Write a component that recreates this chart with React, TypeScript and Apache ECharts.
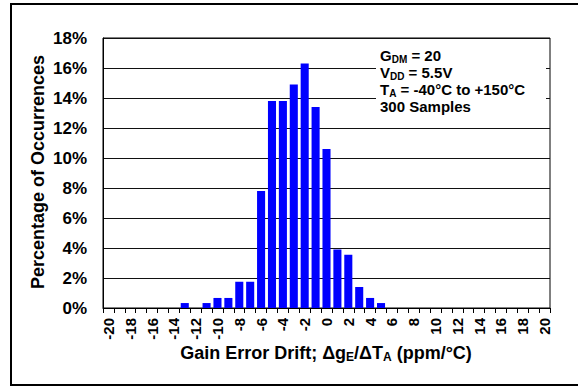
import React, { useEffect, useRef } from "react";
import * as echarts from "echarts";

const categories: string[] = [
  "-20", "-19", "-18", "-17", "-16", "-15", "-14", "-13", "-12", "-11",
  "-10", "-9", "-8", "-7", "-6", "-5", "-4", "-3", "-2", "-1",
  "0", "1", "2", "3", "4", "5", "6", "7", "8", "9",
  "10", "11", "12", "13", "14", "15", "16", "17", "18", "19", "20",
];

const percentages: number[] = [
  0, 0, 0, 0, 0, 0, 0, 0.33, 0, 0.33,
  0.67, 0.67, 1.75, 1.75, 7.8, 13.8, 13.8, 14.9, 16.3, 13.4,
  10.6, 3.9, 3.55, 1.4, 0.67, 0.33, 0, 0, 0, 0,
  0, 0, 0, 0, 0, 0, 0, 0, 0, 0, 0,
];

const yTicks = { min: 0, max: 18, interval: 2 };

const FONT = "'Liberation Sans', Arial, Helvetica, sans-serif";

export default function App() {
  const ref = useRef<HTMLDivElement>(null);
  useEffect(() => {
    if (!ref.current) return;
    const chart = echarts.init(ref.current, undefined, { renderer: "svg" });
    chart.setOption({
      animation: false,
      backgroundColor: "#fff",
      textStyle: { fontFamily: FONT },
      grid: {
        left: 103,
        top: 38,
        right: 28,
        bottom: 78,
        show: true,
        borderColor: "#000",
        borderWidth: 1,
        containLabel: false,
        outerBoundsMode: "none",
      },
      xAxis: {
        type: "category",
        data: categories,
        boundaryGap: true,
        axisLine: { show: true, lineStyle: { color: "#000", width: 1 } },
        axisTick: { show: true, interval: 0, length: 5, lineStyle: { color: "#000" } },
        axisLabel: {
          interval: 1,
          rotate: 90,
          margin: 10,
          color: "#000",
          fontWeight: "bold",
          fontSize: 15,
          fontFamily: FONT,
        },
        splitLine: { show: false },
      },
      yAxis: {
        type: "value",
        min: yTicks.min,
        max: yTicks.max,
        interval: yTicks.interval,
        axisLine: { show: true, lineStyle: { color: "#000", width: 1 } },
        axisTick: { show: false },
        axisLabel: {
          formatter: "{value}%",
          margin: 16,
          color: "#000",
          fontWeight: "bold",
          fontSize: 17,
          fontFamily: FONT,
        },
        splitLine: { show: true, lineStyle: { color: "#111", width: 1 } },
      },
      series: [
        {
          type: "bar",
          data: percentages,
          barWidth: "74%",
          itemStyle: { color: "#0000ff" },
        },
      ],
      graphic: [
        {
          type: "rect",
          z: 100,
          shape: { x: 11, y: 4, width: 600, height: 381 },
          style: { fill: "none", stroke: "#000", lineWidth: 2 },
        },
        {
          type: "rect",
          z: 100,
          shape: { x: 376, y: 42, width: 170, height: 76 },
          style: { fill: "#fff", stroke: "none" },
        },
        {
          type: "text",
          z: 101,
          x: 380,
          y: 47,
          style: {
            text:
              "{m|G}{s|DM}{m| = 20}\n{m|V}{s|DD}{m| = 5.5V}\n{m|T}{s|A}{m| = -40°C to +150°C}\n{m|300 Samples}",
            rich: {
              m: { fontSize: 15, fontWeight: "bold", fontFamily: FONT, fill: "#000", lineHeight: 17 },
              s: {
                fontSize: 10,
                fontWeight: "bold",
                fontFamily: FONT,
                fill: "#000",
                lineHeight: 8,
                verticalAlign: "bottom",
              },
            },
          },
        },
        {
          type: "text",
          z: 101,
          x: 38,
          y: 172,
          rotation: Math.PI / 2,
          style: {
            text: "Percentage of Occurrences",
            fontSize: 18,
            fontWeight: "bold",
            fontFamily: FONT,
            fill: "#000",
            align: "center",
            verticalAlign: "middle",
          },
        },
        {
          type: "text",
          z: 101,
          x: 326,
          y: 353,
          style: {
            text: "{m|Gain Error Drift; Δg}{s|E}{m|/ΔT}{s|A}{m| (ppm/°C)}",
            align: "center",
            verticalAlign: "middle",
            rich: {
              m: { fontSize: 18, fontWeight: "bold", fontFamily: FONT, fill: "#000", lineHeight: 20 },
              s: {
                fontSize: 12,
                fontWeight: "bold",
                fontFamily: FONT,
                fill: "#000",
                lineHeight: 10,
                verticalAlign: "bottom",
              },
            },
          },
        },
      ],
    });
    return () => chart.dispose();
  }, []);
  return (
    <div
      ref={ref}
      style={{ position: "fixed", left: 0, top: 0, width: 578, height: 386 }}
    />
  );
}
